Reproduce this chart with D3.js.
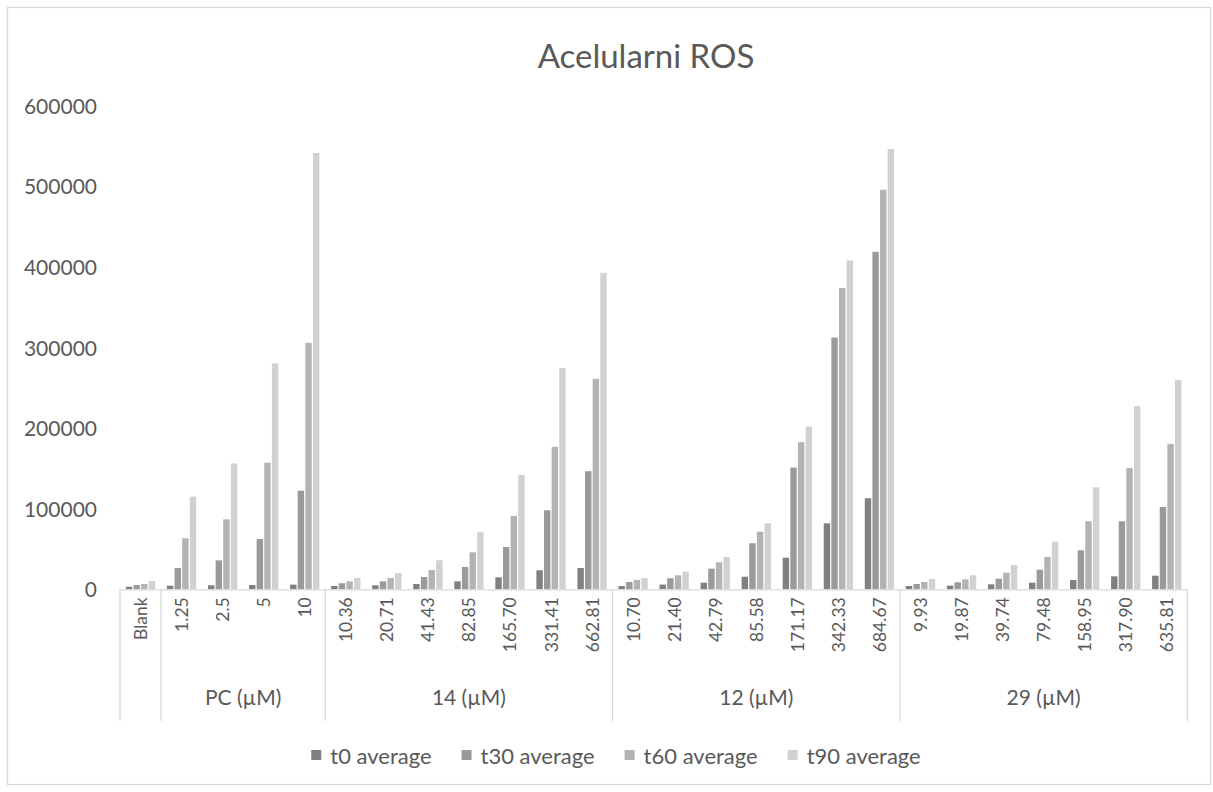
<!DOCTYPE html>
<html>
<head>
<meta charset="utf-8">
<script src="https://cdn.jsdelivr.net/npm/d3@7"></script>
<style>
  html, body { margin: 0; padding: 0; background: #fff; }
  svg { display: block; }
  text { font-family: Lato, "Open Sans", sans-serif; fill: #595959; }
</style>
</head>
<body>
<svg id="chart" width="1213" height="792"></svg>
<script>
// ---- data ----
const title = "Acelularni ROS";
const categories = ["Blank",
  "1.25", "2.5", "5", "10",
  "10.36", "20.71", "41.43", "82.85", "165.70", "331.41", "662.81",
  "10.70", "21.40", "42.79", "85.58", "171.17", "342.33", "684.67",
  "9.93", "19.87", "39.74", "79.48", "158.95", "317.90", "635.81"];
const groupNames = ["", "PC (µM)", "14 (µM)", "12 (µM)", "29 (µM)"];
const groupSizes = [1, 4, 7, 7, 7];
const seriesNames = ["t0 average", "t30 average", "t60 average", "t90 average"];
const t0 = [3200,
  4500, 5000, 5300, 5800,
  4100, 5000, 6600, 9900, 14900, 23600, 26400,
  4100, 5800, 8200, 15600, 39200, 81900, 113000,
  4100, 4500, 6200, 8200, 11500, 16100, 16900];
const t30 = [5300,
  26400, 35900, 62500, 122300,
  7500, 9900, 15300, 27700, 52500, 98100, 146500,
  9100, 13700, 25600, 57100, 151000, 312400, 418700,
  6600, 8700, 13200, 24300, 48400, 84400, 102200];
const t60 = [6600,
  63300, 86800, 157000, 305800,
  9900, 14000, 24000, 45900, 91000, 176700, 261100,
  11600, 17400, 33500, 71500, 182500, 373700, 495700,
  9100, 12400, 20600, 40100, 84400, 150600, 180400];
const t90 = [10300,
  115000, 156200, 280200, 541300,
  14000, 20200, 36000, 70800, 141900, 274400, 392700,
  14000, 21900, 40100, 81900, 201900, 408000, 546200,
  12800, 17400, 30200, 59100, 126600, 227200, 259800];
const yTicks = [0, 100000, 200000, 300000, 400000, 500000, 600000];
const colors = ["#808080", "#9a9a9a", "#b3b3b3", "#d1d1d1"];

const seriesValues = [t0, t30, t60, t90];

// ---- layout ----
const svg = d3.select("#chart");
const plot = { left: 120, right: 1187.3, top: 105.7, bottom: 589.3 };
const axisColor = "#d9d9d9";

svg.append("rect")
  .attr("x", 7.5).attr("y", 7.5).attr("width", 1203).attr("height", 777)
  .attr("fill", "#fff").attr("stroke", axisColor).attr("stroke-width", 1.3);

// title
svg.append("text")
  .attr("x", 646).attr("y", 68)
  .attr("text-anchor", "middle")
  .style("font-size", "33px")
  .text(title);

const y = d3.scaleLinear().domain([0, 600000]).range([plot.bottom, plot.top]);
const x0 = d3.scaleBand().domain(d3.range(categories.length)).range([plot.left, plot.right]).padding(0);
const bw = x0.bandwidth();
const clusterW = 29.3;
const x1 = d3.scaleBand().domain(d3.range(seriesNames.length))
  .range([(bw - clusterW) / 2, (bw + clusterW) / 2]).paddingInner(0.16).paddingOuter(0);

// y axis labels (no line, no gridlines)
const yAxis = d3.axisLeft(y).tickValues(yTicks).tickSize(0).tickPadding(0).tickFormat(d3.format("d"));
const gy = svg.append("g").attr("transform", `translate(97,0)`).call(yAxis);
gy.select(".domain").remove();
gy.selectAll("text")
  .style("font-size", "21px")
  .style("font-family", "Lato, 'Open Sans', sans-serif")
  .attr("fill", "#595959")
  .attr("dy", "0.36em");

// bars
const barG = svg.append("g");
categories.forEach((c, i) => {
  const g = barG.append("g").attr("transform", `translate(${x0(i)},0)`);
  g.selectAll("rect")
    .data(seriesValues.map((s, k) => ({ k, v: s[i] })))
    .join("rect")
    .attr("x", d => x1(d.k))
    .attr("width", x1.bandwidth())
    .attr("y", d => y(d.v))
    .attr("height", d => y(0) - y(d.v))
    .attr("fill", d => colors[d.k]);
});

// category axis
const xAxis = d3.axisBottom(x0).tickSize(0).tickFormat(i => categories[i]);
const gx = svg.append("g").attr("transform", `translate(0,${plot.bottom})`).call(xAxis);
gx.select(".domain").attr("stroke", axisColor).attr("stroke-width", 1.3);
gx.selectAll(".tick text")
  .style("font-size", "17.5px")
  .style("font-family", "Lato, 'Open Sans', sans-serif")
  .attr("fill", "#595959")
  .attr("text-anchor", "end")
  .attr("dy", null)
  .attr("dominant-baseline", "central")
  .attr("transform", "translate(0,8) rotate(-90)")
  .attr("y", 0).attr("x", 0);

// group separators & labels
const lineBottom = 721;
let start = 0;
const bounds = [0];
groupSizes.forEach(n => { start += n; bounds.push(start); });
bounds.forEach(b => {
  const xx = b < categories.length ? x0(b) : plot.right;
  svg.append("line")
    .attr("x1", xx).attr("x2", xx)
    .attr("y1", plot.bottom).attr("y2", lineBottom)
    .attr("stroke", axisColor).attr("stroke-width", 1.3);
});
groupNames.forEach((name, gi) => {
  if (!name) return;
  const a = x0(bounds[gi]);
  const bIdx = bounds[gi + 1];
  const b = bIdx < categories.length ? x0(bIdx) : plot.right;
  svg.append("text")
    .attr("x", (a + b) / 2).attr("y", 696)
    .attr("text-anchor", "middle")
    .attr("dominant-baseline", "central")
    .style("font-size", "21px")
    .text(name);
});

// legend
const legend = svg.append("g");
const sq = 10, gapSq = 9, gapItem = 30;
let lx = 0;
seriesNames.forEach((s, k) => {
  const it = legend.append("g").attr("transform", `translate(${lx},0)`);
  it.append("rect").attr("x", 0).attr("y", -sq / 2).attr("width", sq).attr("height", sq).attr("fill", colors[k]);
  const t = it.append("text").attr("x", sq + gapSq).attr("y", 0)
    .attr("dominant-baseline", "central").style("font-size", "22px").text(s);
  const tw = t.node().getComputedTextLength();
  lx += sq + gapSq + tw + gapItem;
});
const totalW = lx - gapItem;
legend.attr("transform", `translate(${616 - totalW / 2},755)`);
</script>
</body>
</html>
